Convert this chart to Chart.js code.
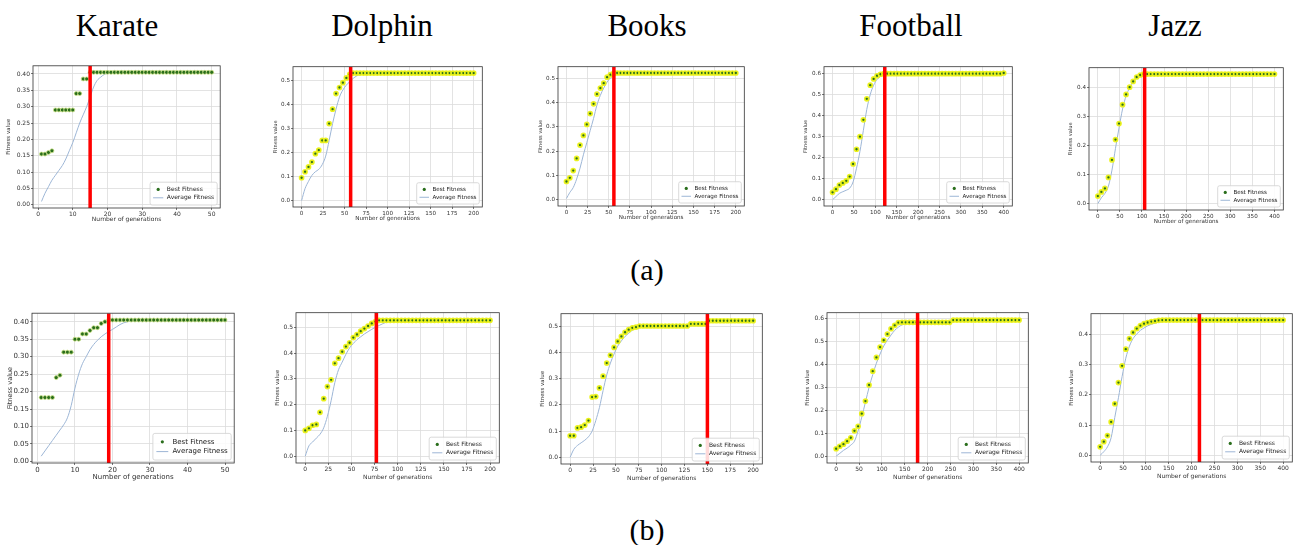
<!DOCTYPE html>
<html>
<head>
<meta charset="utf-8">
<script src="https://cdn.jsdelivr.net/npm/chart.js@4.4.1/dist/chart.umd.min.js"></script>
<style>
  body { margin: 0; background: #fff; width: 1296px; height: 545px; overflow: hidden; position: relative; }
  .ttl { position: absolute; font-family: "Liberation Serif", "Times New Roman", serif; color: #000; line-height: 1; white-space: nowrap; transform: translateX(-50%); }
  .pan { position: absolute; }
</style>
</head>
<body>
<script>
// network names (column titles) and sub-figure captions
const titles = ['Karate', 'Dolphin', 'Books', 'Football', 'Jazz'];
const captions = ['(a)', '(b)'];

// generations sampled on the x axis
const gensK = [1,2,3,4,5,6,7,8,9,10,11,12,13,14,15,16,17,18,19,20,21,22,23,24,25,26,27,28,29,30,
  31,32,33,34,35,36,37,38,39,40,41,42,43,44,45,46,47,48,49,50];
const gens200 = [0,4,8,12,16,20,24,28,32,36,40,44,48,52,56,60,64,68,72,76,80,84,88,92,96,100,
  104,108,112,116,120,124,128,132,136,140,144,148,152,156,160,164,168,172,176,180,184,188,192,196,200];
const gens400 = [0,8,16,24,32,40,48,56,64,72,80,88,96,104,112,120,128,136,144,152,160,168,176,184,192,200,
  208,216,224,232,240,248,256,264,272,280,288,296,304,312,320,328,336,344,352,360,368,376,384,392,400];

// tick labels
const xTicksK = [0, 10, 20, 30, 40, 50];
const xTicks200 = [0, 25, 50, 75, 100, 125, 150, 175, 200];
const xTicks400 = [0, 50, 100, 150, 200, 250, 300, 350, 400];
const yTicksK = [0, 0.05, 0.10, 0.15, 0.20, 0.25, 0.30, 0.35, 0.40];
const yTicks5 = [0, 0.1, 0.2, 0.3, 0.4, 0.5];
const yTicks6 = [0, 0.1, 0.2, 0.3, 0.4, 0.5, 0.6];
const yTicks4 = [0, 0.1, 0.2, 0.3, 0.4];

// generation where the red marker sits
const redA = [15, 57, 56, 122, 106];
const redB = [19, 77, 150, 178, 217];

// ---- row (a) ----
const karateBestA = [0.155,0.155,0.16,0.165,0.29,0.29,0.29,0.29,0.29,0.29,
  0.34,0.34,0.385,0.385,0.405,0.405,0.405,0.405,0.405,0.405,
  0.405,0.405,0.405,0.405,0.405,0.405,0.405,0.405,0.405,0.405,
  0.405,0.405,0.405,0.405,0.405,0.405,0.405,0.405,0.405,0.405,
  0.405,0.405,0.405,0.405,0.405,0.405,0.405,0.405,0.405,0.405];
const karateAvgA = [0.01,0.035,0.055,0.075,0.09,0.105,0.12,0.14,0.165,0.19,
  0.22,0.25,0.275,0.30,0.33,0.36,0.38,0.39,0.398,0.402,
  0.405,0.405,0.405,0.405,0.405,0.405,0.405,0.405,0.405,0.405,
  0.405,0.405,0.405,0.405,0.405,0.405,0.405,0.405,0.405,0.405,
  0.405,0.405,0.405,0.405,0.405,0.405,0.405,0.405,0.405,0.405];
const dolphinBestA = [0.095,0.12,0.14,0.16,0.195,0.21,0.25,0.25,0.32,0.38,
  0.445,0.47,0.49,0.51,0.525,0.53,0.53,0.53,0.53,0.53,
  0.53,0.53,0.53,0.53,0.53,0.53,0.53,0.53,0.53,0.53,
  0.53,0.53,0.53,0.53,0.53,0.53,0.53,0.53,0.53,0.53,
  0.53,0.53,0.53,0.53,0.53,0.53,0.53,0.53,0.53,0.53,0.53];
const dolphinAvgA = [0,0.05,0.08,0.105,0.12,0.13,0.15,0.185,0.25,0.32,
  0.38,0.43,0.46,0.48,0.495,0.508,0.518,0.524,0.527,0.528,
  0.528,0.528,0.528,0.528,0.528,0.528,0.528,0.528,0.528,0.528,
  0.528,0.528,0.528,0.528,0.528,0.528,0.528,0.528,0.528,0.528,
  0.528,0.528,0.528,0.528,0.528,0.528,0.528,0.528,0.528,0.528,0.528];
const booksBestA = [0.075,0.09,0.12,0.17,0.225,0.265,0.31,0.355,0.395,0.435,
  0.46,0.48,0.505,0.515,0.522,0.522,0.522,0.522,0.522,0.522,
  0.522,0.522,0.522,0.522,0.522,0.522,0.522,0.522,0.522,0.522,
  0.522,0.522,0.522,0.522,0.522,0.522,0.522,0.522,0.522,0.522,
  0.522,0.522,0.522,0.522,0.522,0.522,0.522,0.522,0.522,0.522,0.522];
const booksAvgA = [0.005,0.03,0.05,0.085,0.13,0.185,0.235,0.285,0.335,0.39,
  0.43,0.46,0.485,0.502,0.512,0.517,0.52,0.52,0.52,0.52,
  0.52,0.52,0.52,0.52,0.52,0.52,0.52,0.52,0.52,0.52,
  0.52,0.52,0.52,0.52,0.52,0.52,0.52,0.52,0.52,0.52,
  0.52,0.52,0.52,0.52,0.52,0.52,0.52,0.52,0.52,0.52,0.52];
const footballBestA = [0.035,0.05,0.07,0.08,0.09,0.11,0.17,0.24,0.30,0.38,
  0.48,0.545,0.575,0.59,0.597,0.60,0.60,0.60,0.60,0.60,
  0.60,0.60,0.60,0.60,0.60,0.60,0.60,0.60,0.60,0.60,
  0.60,0.60,0.60,0.60,0.60,0.60,0.60,0.60,0.60,0.60,
  0.60,0.60,0.60,0.60,0.60,0.60,0.60,0.60,0.60,0.60,0.603];
const footballAvgA = [0,0.015,0.03,0.038,0.045,0.055,0.085,0.15,0.23,0.33,
  0.43,0.50,0.545,0.572,0.586,0.593,0.597,0.597,0.597,0.597,
  0.597,0.597,0.597,0.597,0.597,0.597,0.597,0.597,0.597,0.597,
  0.597,0.597,0.597,0.597,0.597,0.597,0.597,0.597,0.597,0.597,
  0.597,0.597,0.597,0.597,0.597,0.597,0.597,0.597,0.597,0.597,0.597];
const jazzBestA = [0.026,0.04,0.052,0.09,0.15,0.22,0.275,0.34,0.375,0.40,
  0.42,0.435,0.442,0.445,0.445,0.445,0.445,0.445,0.445,0.445,
  0.445,0.445,0.445,0.445,0.445,0.445,0.445,0.445,0.445,0.445,
  0.445,0.445,0.445,0.445,0.445,0.445,0.445,0.445,0.445,0.445,
  0.445,0.445,0.445,0.445,0.445,0.445,0.445,0.445,0.445,0.445,0.445];
const jazzAvgA = [0,0.02,0.035,0.06,0.115,0.19,0.26,0.325,0.37,0.398,
  0.418,0.432,0.44,0.445,0.445,0.445,0.445,0.445,0.445,0.445,
  0.445,0.445,0.445,0.445,0.445,0.445,0.445,0.445,0.445,0.445,
  0.445,0.445,0.445,0.445,0.445,0.445,0.445,0.445,0.445,0.445,
  0.445,0.445,0.445,0.445,0.445,0.445,0.445,0.445,0.445,0.445,0.445];

// ---- row (b) ----
const karateBestB = [0.183,0.183,0.183,0.183,0.24,0.247,0.313,0.313,0.313,0.35,
  0.35,0.365,0.365,0.375,0.383,0.383,0.395,0.40,0.405,0.405,
  0.405,0.405,0.405,0.405,0.405,0.405,0.405,0.405,0.405,0.405,
  0.405,0.405,0.405,0.405,0.405,0.405,0.405,0.405,0.405,0.405,
  0.405,0.405,0.405,0.405,0.405,0.405,0.405,0.405,0.405,0.405];
const karateAvgB = [0.015,0.03,0.045,0.06,0.075,0.09,0.105,0.125,0.16,0.21,
  0.25,0.28,0.30,0.32,0.335,0.347,0.357,0.365,0.372,0.378,
  0.385,0.392,0.397,0.40,0.403,0.403,0.403,0.403,0.403,0.403,
  0.403,0.403,0.403,0.403,0.403,0.403,0.403,0.403,0.403,0.403,
  0.403,0.403,0.403,0.403,0.403,0.403,0.403,0.403,0.403,0.403];
const dolphinBestB = [0.10,0.108,0.12,0.123,0.17,0.223,0.27,0.296,0.36,0.38,
  0.405,0.425,0.44,0.46,0.472,0.485,0.495,0.505,0.515,0.522,
  0.527,0.527,0.527,0.527,0.527,0.527,0.527,0.527,0.527,0.527,
  0.527,0.527,0.527,0.527,0.527,0.527,0.527,0.527,0.527,0.527,
  0.527,0.527,0.527,0.527,0.527,0.527,0.527,0.527,0.527,0.527,0.527];
const dolphinAvgB = [0,0.04,0.055,0.07,0.085,0.11,0.155,0.215,0.285,0.335,
  0.365,0.395,0.42,0.437,0.452,0.463,0.474,0.483,0.492,0.50,
  0.507,0.514,0.52,0.524,0.527,0.527,0.527,0.527,0.527,0.527,
  0.527,0.527,0.527,0.527,0.527,0.527,0.527,0.527,0.527,0.527,
  0.527,0.527,0.527,0.527,0.527,0.527,0.527,0.527,0.527,0.527,0.527];
const booksBestB = [0.082,0.082,0.112,0.115,0.123,0.14,0.23,0.232,0.265,0.31,
  0.36,0.39,0.42,0.443,0.462,0.478,0.488,0.495,0.498,0.502,
  0.502,0.502,0.502,0.502,0.502,0.502,0.502,0.502,0.502,0.502,
  0.502,0.502,0.502,0.51,0.51,0.51,0.51,0.51,0.522,0.522,
  0.522,0.522,0.522,0.522,0.522,0.522,0.522,0.522,0.522,0.522,0.522];
const booksAvgB = [0,0.03,0.045,0.055,0.065,0.078,0.10,0.14,0.19,0.255,
  0.315,0.36,0.395,0.425,0.445,0.462,0.474,0.486,0.494,0.498,
  0.5,0.5,0.5,0.5,0.5,0.5,0.5,0.5,0.5,0.5,
  0.5,0.5,0.5,0.508,0.508,0.508,0.508,0.508,0.52,0.52,
  0.52,0.52,0.52,0.52,0.52,0.52,0.52,0.52,0.52,0.52,0.52];
const footballBestB = [0.032,0.043,0.052,0.065,0.08,0.11,0.13,0.185,0.24,0.31,
  0.37,0.43,0.475,0.505,0.532,0.555,0.57,0.582,0.583,0.583,
  0.583,0.583,0.583,0.583,0.583,0.583,0.583,0.583,0.583,0.583,
  0.583,0.583,0.593,0.593,0.593,0.593,0.593,0.593,0.593,0.593,
  0.593,0.593,0.593,0.593,0.593,0.593,0.593,0.593,0.593,0.593,0.593];
const footballAvgB = [0,0.012,0.025,0.035,0.048,0.065,0.11,0.17,0.235,0.30,
  0.355,0.405,0.445,0.48,0.505,0.528,0.548,0.562,0.572,0.577,
  0.58,0.58,0.58,0.58,0.58,0.58,0.58,0.58,0.58,0.58,
  0.58,0.58,0.59,0.59,0.59,0.59,0.59,0.59,0.59,0.59,
  0.59,0.59,0.59,0.59,0.59,0.59,0.59,0.59,0.59,0.59,0.59];
const jazzBestB = [0.028,0.045,0.065,0.11,0.17,0.24,0.295,0.35,0.385,0.405,
  0.418,0.428,0.434,0.438,0.441,0.443,0.445,0.446,0.446,0.446,
  0.446,0.446,0.446,0.446,0.446,0.446,0.446,0.446,0.446,0.446,
  0.446,0.446,0.446,0.446,0.446,0.446,0.446,0.446,0.446,0.446,
  0.446,0.446,0.446,0.446,0.446,0.446,0.446,0.446,0.446,0.446,0.446];
const jazzAvgB = [0,0.012,0.028,0.058,0.125,0.19,0.26,0.32,0.36,0.385,
  0.40,0.412,0.42,0.427,0.432,0.436,0.439,0.441,0.443,0.445,
  0.445,0.445,0.445,0.445,0.445,0.445,0.445,0.445,0.445,0.445,
  0.445,0.445,0.445,0.445,0.445,0.445,0.445,0.445,0.445,0.445,
  0.445,0.445,0.445,0.445,0.445,0.445,0.445,0.445,0.445,0.445,0.445];

// layout of each panel: plot box [left, top, right, bottom] in page pixels
const panels = [
  { box: [33, 65, 221, 208],   yw: 28, xh: 15, fs: 6,   gens: gensK,   best: karateBestA,   avg: karateAvgA,   red: redA[0], x: [-1.45, 52.45], y: [-0.01, 0.425],   xt: xTicksK,   yt: yTicksK, dec: 2, karate: true },
  { box: [293, 65, 484, 207],  yw: 20, xh: 15, fs: 5.6, gens: gens200, best: dolphinBestA,  avg: dolphinAvgA,  red: redA[1], x: [-10, 210],     y: [-0.0265, 0.5565], xt: xTicks200, yt: yTicks5, dec: 1 },
  { box: [558, 65, 746, 206],  yw: 20, xh: 15, fs: 5.6, gens: gens200, best: booksBestA,    avg: booksAvgA,    red: redA[2], x: [-10, 210],     y: [-0.026, 0.548],   xt: xTicks200, yt: yTicks5, dec: 1 },
  { box: [824, 65, 1014, 206], yw: 21, xh: 15, fs: 5.6, gens: gens400, best: footballBestA, avg: footballAvgA, red: redA[3], x: [-20, 420],     y: [-0.03, 0.633],    xt: xTicks400, yt: yTicks6, dec: 1 },
  { box: [1089, 66, 1285, 210],yw: 21, xh: 15, fs: 5.6, gens: gens400, best: jazzBestA,     avg: jazzAvgA,     red: redA[4], x: [-20, 420],     y: [-0.022, 0.467],   xt: xTicks400, yt: yTicks4, dec: 1 },
  { box: [32, 312, 235, 463],  yw: 26, xh: 18, fs: 7,   gens: gensK,   best: karateBestB,   avg: karateAvgB,   red: redB[0], x: [-1.45, 52.45], y: [-0.0045, 0.4245], xt: xTicksK,   yt: yTicksK, dec: 2, karate: true },
  { box: [296, 311, 501, 463], yw: 22, xh: 18, fs: 6,   gens: gens200, best: dolphinBestB,  avg: dolphinAvgB,  red: redB[1], x: [-10, 210],     y: [-0.0265, 0.5565], xt: xTicks200, yt: yTicks5, dec: 1 },
  { box: [561, 312, 764, 464], yw: 22, xh: 18, fs: 6,   gens: gens200, best: booksBestB,    avg: booksAvgB,    red: redB[2], x: [-10, 210],     y: [-0.026, 0.549],   xt: xTicks200, yt: yTicks5, dec: 1 },
  { box: [827, 311, 1030, 463],yw: 23, xh: 18, fs: 6,   gens: gens400, best: footballBestB, avg: footballAvgB, red: redB[3], x: [-20, 420],     y: [-0.03, 0.625],    xt: xTicks400, yt: yTicks6, dec: 1 },
  { box: [1091, 312, 1294, 462],yw: 23, xh: 18, fs: 6,  gens: gens400, best: jazzBestB,     avg: jazzAvgB,     red: redB[4], x: [-20, 420],     y: [-0.022, 0.467],   xt: xTicks400, yt: yTicks4, dec: 1 }
];

const FONT = '"DejaVu Sans", sans-serif';
const GREEN = '#2a6e1c';

// matplotlib-like frame + legend box in the lower right of the plot
const frameLegend = {
  id: 'frameLegend',
  afterDraw(chart) {
    const a = chart.chartArea, ctx = chart.ctx;
    const fs = chart.options.plugins.frameLegend.fs;
    const best = chart.data.datasets[1], avg = chart.data.datasets[2];
    ctx.save();
    ctx.strokeStyle = '#333';
    ctx.lineWidth = 0.8;
    ctx.strokeRect(a.left, a.top, a.right - a.left, a.bottom - a.top);

    ctx.font = fs + 'px ' + FONT;
    const pad = fs * 0.5, hw = fs * 1.7, gap = fs * 0.6, rh = fs * 1.4;
    const tw = Math.max(ctx.measureText(best.label).width, ctx.measureText(avg.label).width);
    const w = pad * 2 + hw + gap + tw, h = pad * 2 + rh * 2;
    const x0 = a.right - 3 - w, y0 = a.bottom - 3 - h;
    ctx.fillStyle = 'rgba(255,255,255,0.85)';
    ctx.strokeStyle = '#d0d0d0';
    ctx.lineWidth = 0.8;
    ctx.beginPath();
    ctx.roundRect(x0, y0, w, h, 2);
    ctx.fill();
    ctx.stroke();

    const cy1 = y0 + pad + rh / 2, cy2 = cy1 + rh;
    const mx = x0 + pad + hw / 2;
    ctx.beginPath();
    ctx.arc(mx, cy1, 1.6, 0, Math.PI * 2);
    ctx.fillStyle = GREEN;
    ctx.fill();
    ctx.beginPath();
    ctx.moveTo(x0 + pad, cy2);
    ctx.lineTo(x0 + pad + hw, cy2);
    ctx.strokeStyle = avg.borderColor;
    ctx.lineWidth = 1;
    ctx.stroke();

    ctx.fillStyle = '#222';
    ctx.textBaseline = 'middle';
    ctx.fillText(best.label, x0 + pad + hw + gap, cy1);
    ctx.fillText(avg.label, x0 + pad + hw + gap, cy2);
    ctx.restore();
  }
};

function addTitle(text, cx, top, size) {
  const d = document.createElement('div');
  d.className = 'ttl';
  d.textContent = text;
  d.style.left = cx + 'px';
  d.style.top = top + 'px';
  d.style.fontSize = size + 'px';
  document.body.appendChild(d);
}

[117, 382, 647, 911, 1175].forEach((cx, i) => addTitle(titles[i], cx, 10, 31));
addTitle(captions[0], 647, 255, 30);
addTitle(captions[1], 647, 515, 30);

function makePanel(p) {
  const [L, T, R, B] = p.box;
  const w = R - L + p.yw + 4, h = B - T + 4 + p.xh;
  const wrap = document.createElement('div');
  wrap.className = 'pan';
  wrap.style.left = (L - p.yw) + 'px';
  wrap.style.top = (T - 4) + 'px';
  wrap.style.width = w + 'px';
  wrap.style.height = h + 'px';
  const cv = document.createElement('canvas');
  cv.width = w; cv.height = h;
  cv.style.width = w + 'px'; cv.style.height = h + 'px';
  wrap.appendChild(cv);
  document.body.appendChild(wrap);

  const font = { family: FONT, size: p.fs };
  const bestPts = p.gens.map((g, i) => ({ x: g, y: p.best[i] }));
  const avgPts = p.gens.map((g, i) => ({ x: g, y: p.avg[i] }));

  new Chart(cv, {
    type: 'scatter',
    data: {
      datasets: [
        { label: 'best gen', data: [{ x: p.red, y: p.y[0] }, { x: p.red, y: p.y[1] }],
          showLine: true, borderColor: '#ff0000', borderWidth: 3.5, pointRadius: 0, borderCapStyle: 'butt' },
        { label: 'Best Fitness', data: bestPts,
          backgroundColor: GREEN,
          borderColor: p.karate ? '#cfe48a' : 'rgba(236,242,24,0.95)',
          pointRadius: p.karate ? 2 : 2,
          pointBorderWidth: p.karate ? 0.8 : 1.7 },
        { label: 'Average Fitness', data: avgPts, showLine: true, borderColor: '#9db6d6', borderWidth: 1,
          pointRadius: 0, cubicInterpolationMode: 'monotone' }
      ]
    },
    options: {
      responsive: false,
      animation: false,
      devicePixelRatio: 1,
      layout: { padding: { top: 4, right: 4, left: 0, bottom: 0 } },
      plugins: { legend: { display: false }, tooltip: { enabled: false }, frameLegend: { fs: p.fs } },
      scales: {
        x: {
          type: 'linear', min: p.x[0], max: p.x[1],
          afterBuildTicks: s => { s.ticks = p.xt.map(v => ({ value: v })); },
          afterFit: s => { s.height = p.xh; },
          ticks: { font, color: '#333', padding: 1, maxRotation: 0, autoSkip: false, callback: v => String(v) },
          grid: { color: '#dcdcdc', lineWidth: 0.8, tickLength: 2, tickColor: '#555' },
          border: { display: false },
          title: { display: true, text: 'Number of generations', font, color: '#333', padding: 0 }
        },
        y: {
          type: 'linear', min: p.y[0], max: p.y[1],
          afterBuildTicks: s => { s.ticks = p.yt.map(v => ({ value: v })); },
          afterFit: s => { s.width = p.yw; },
          ticks: { font, color: '#333', padding: 1, autoSkip: false, callback: v => v.toFixed(p.dec) },
          grid: { color: '#dcdcdc', lineWidth: 0.8, tickLength: 2, tickColor: '#555' },
          border: { display: false },
          title: { display: true, text: 'Fitness value', font: { family: FONT, size: p.fs - 0.5 }, color: '#333', padding: 0 }
        }
      }
    },
    plugins: [frameLegend]
  });
}

panels.forEach(makePanel);
</script>
</body>
</html>
